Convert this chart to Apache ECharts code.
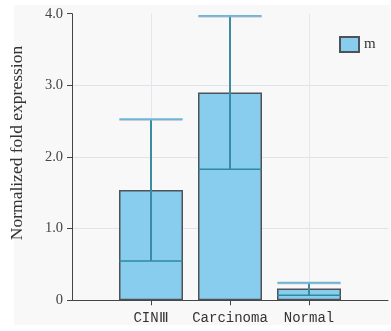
<!DOCTYPE html>
<html>
<head>
<meta charset="utf-8">
<script src="https://cdn.jsdelivr.net/npm/echarts@6/dist/echarts.min.js"></script>
<style>html,body{margin:0;padding:0;background:#fff}#c{width:391px;height:331px}</style>
</head>
<body>
<div id="c"></div>
<script>
const categories = ['CINⅢ', 'Carcinoma', 'Normal'];
const barValues = [1.54, 2.90, 0.163];
const medianValues = [0.55, 1.83, 0.07];
const upperValues = [2.53, 3.97, 0.246];
const yTickLabels = ['0', '1.0', '2.0', '3.0', '4.0'];
const seriesName = 'm';
const yAxisTitle = 'Normalized fold expression';

const axisData = [''].concat(categories, ['']);
const barData = [null].concat(barValues, [null]);
const errData = categories.map((c, i) => [i + 1, medianValues[i], upperValues[i]]);

const chart = echarts.init(document.getElementById('c'), null, {renderer: 'canvas'});
chart.setOption({
  animation: false,
  backgroundColor: '#ffffff',
  graphic: [{
    type: 'rect', z: -100, silent: true,
    shape: {x: 14, y: 5, width: 376, height: 320},
    style: {fill: '#f8f8f8'}
  }],
  grid: {left: 69, right: 2, top: 13.7, bottom: 30.7, containLabel: false},
  legend: {
    left: 339, top: 36, padding: 0, itemWidth: 19, itemHeight: 15, itemGap: 4,
    icon: 'rect',
    data: [seriesName],
    textStyle: {fontFamily: 'Liberation Serif', fontSize: 15, color: '#333'}
  },
  xAxis: {
    type: 'category', data: axisData, boundaryGap: false,
    axisLine: {lineStyle: {color: '#444', width: 1}},
    axisTick: {length: 5, interval: (i) => i >= 1 && i <= categories.length, lineStyle: {color: '#444'}},
    axisLabel: {
      interval: 0, fontFamily: 'Liberation Mono', fontSize: 14, color: '#333', margin: 11
    },
    splitLine: {show: true, interval: (i) => i >= 1 && i <= categories.length, lineStyle: {color: '#e4e7ec', width: 1}}
  },
  yAxis: {
    type: 'value', min: 0, max: 4, interval: 1,
    name: yAxisTitle, nameLocation: 'middle', nameGap: 46,
    nameTextStyle: {fontFamily: 'Liberation Serif', fontSize: 17.5, color: '#333', padding: [0, 0, 0, 28]},
    axisLine: {show: true, lineStyle: {color: '#444', width: 1}},
    axisTick: {show: true, length: 5, lineStyle: {color: '#444'}},
    axisLabel: {
      fontFamily: 'Liberation Serif', fontSize: 14.5, color: '#444', margin: 9,
      formatter: (v) => yTickLabels[Math.round(v)]
    },
    splitLine: {show: true, lineStyle: {color: ['transparent', '#dfe3ea', '#dfe3ea', '#dfe3ea', 'transparent'], width: 1}}
  },
  series: [{
    name: seriesName, type: 'bar', data: barData, barWidth: 64, z: 2,
    itemStyle: {color: '#88ccee', borderColor: '#4d5358', borderWidth: 1.5}
  }, {
    name: 'err', type: 'custom', z: 3, data: errData,
    renderItem: function (params, api) {
      const idx = api.value(0);
      const med = api.coord([idx, api.value(1)]);
      const up = api.coord([idx, api.value(2)]);
      const half = api.size([1, 0])[0] * 0.4;
      const cx = med[0];
      return {
        type: 'group',
        children: [
          {type: 'line', shape: {x1: cx - half, y1: med[1], x2: cx + half, y2: med[1]}, style: {stroke: '#2d8b9d', lineWidth: 1.5}},
          {type: 'line', shape: {x1: cx, y1: med[1], x2: cx, y2: up[1]}, style: {stroke: '#3a8ca3', lineWidth: 2}},
          {type: 'line', shape: {x1: cx - half, y1: up[1] + 1, x2: cx + half, y2: up[1] + 1}, style: {stroke: '#9aa9b3', lineWidth: 1}},
          {type: 'line', shape: {x1: cx - half, y1: up[1], x2: cx + half, y2: up[1]}, style: {stroke: '#6cb6da', lineWidth: 1.8}}
        ]
      };
    }
  }]
});
</script>
</body>
</html>
